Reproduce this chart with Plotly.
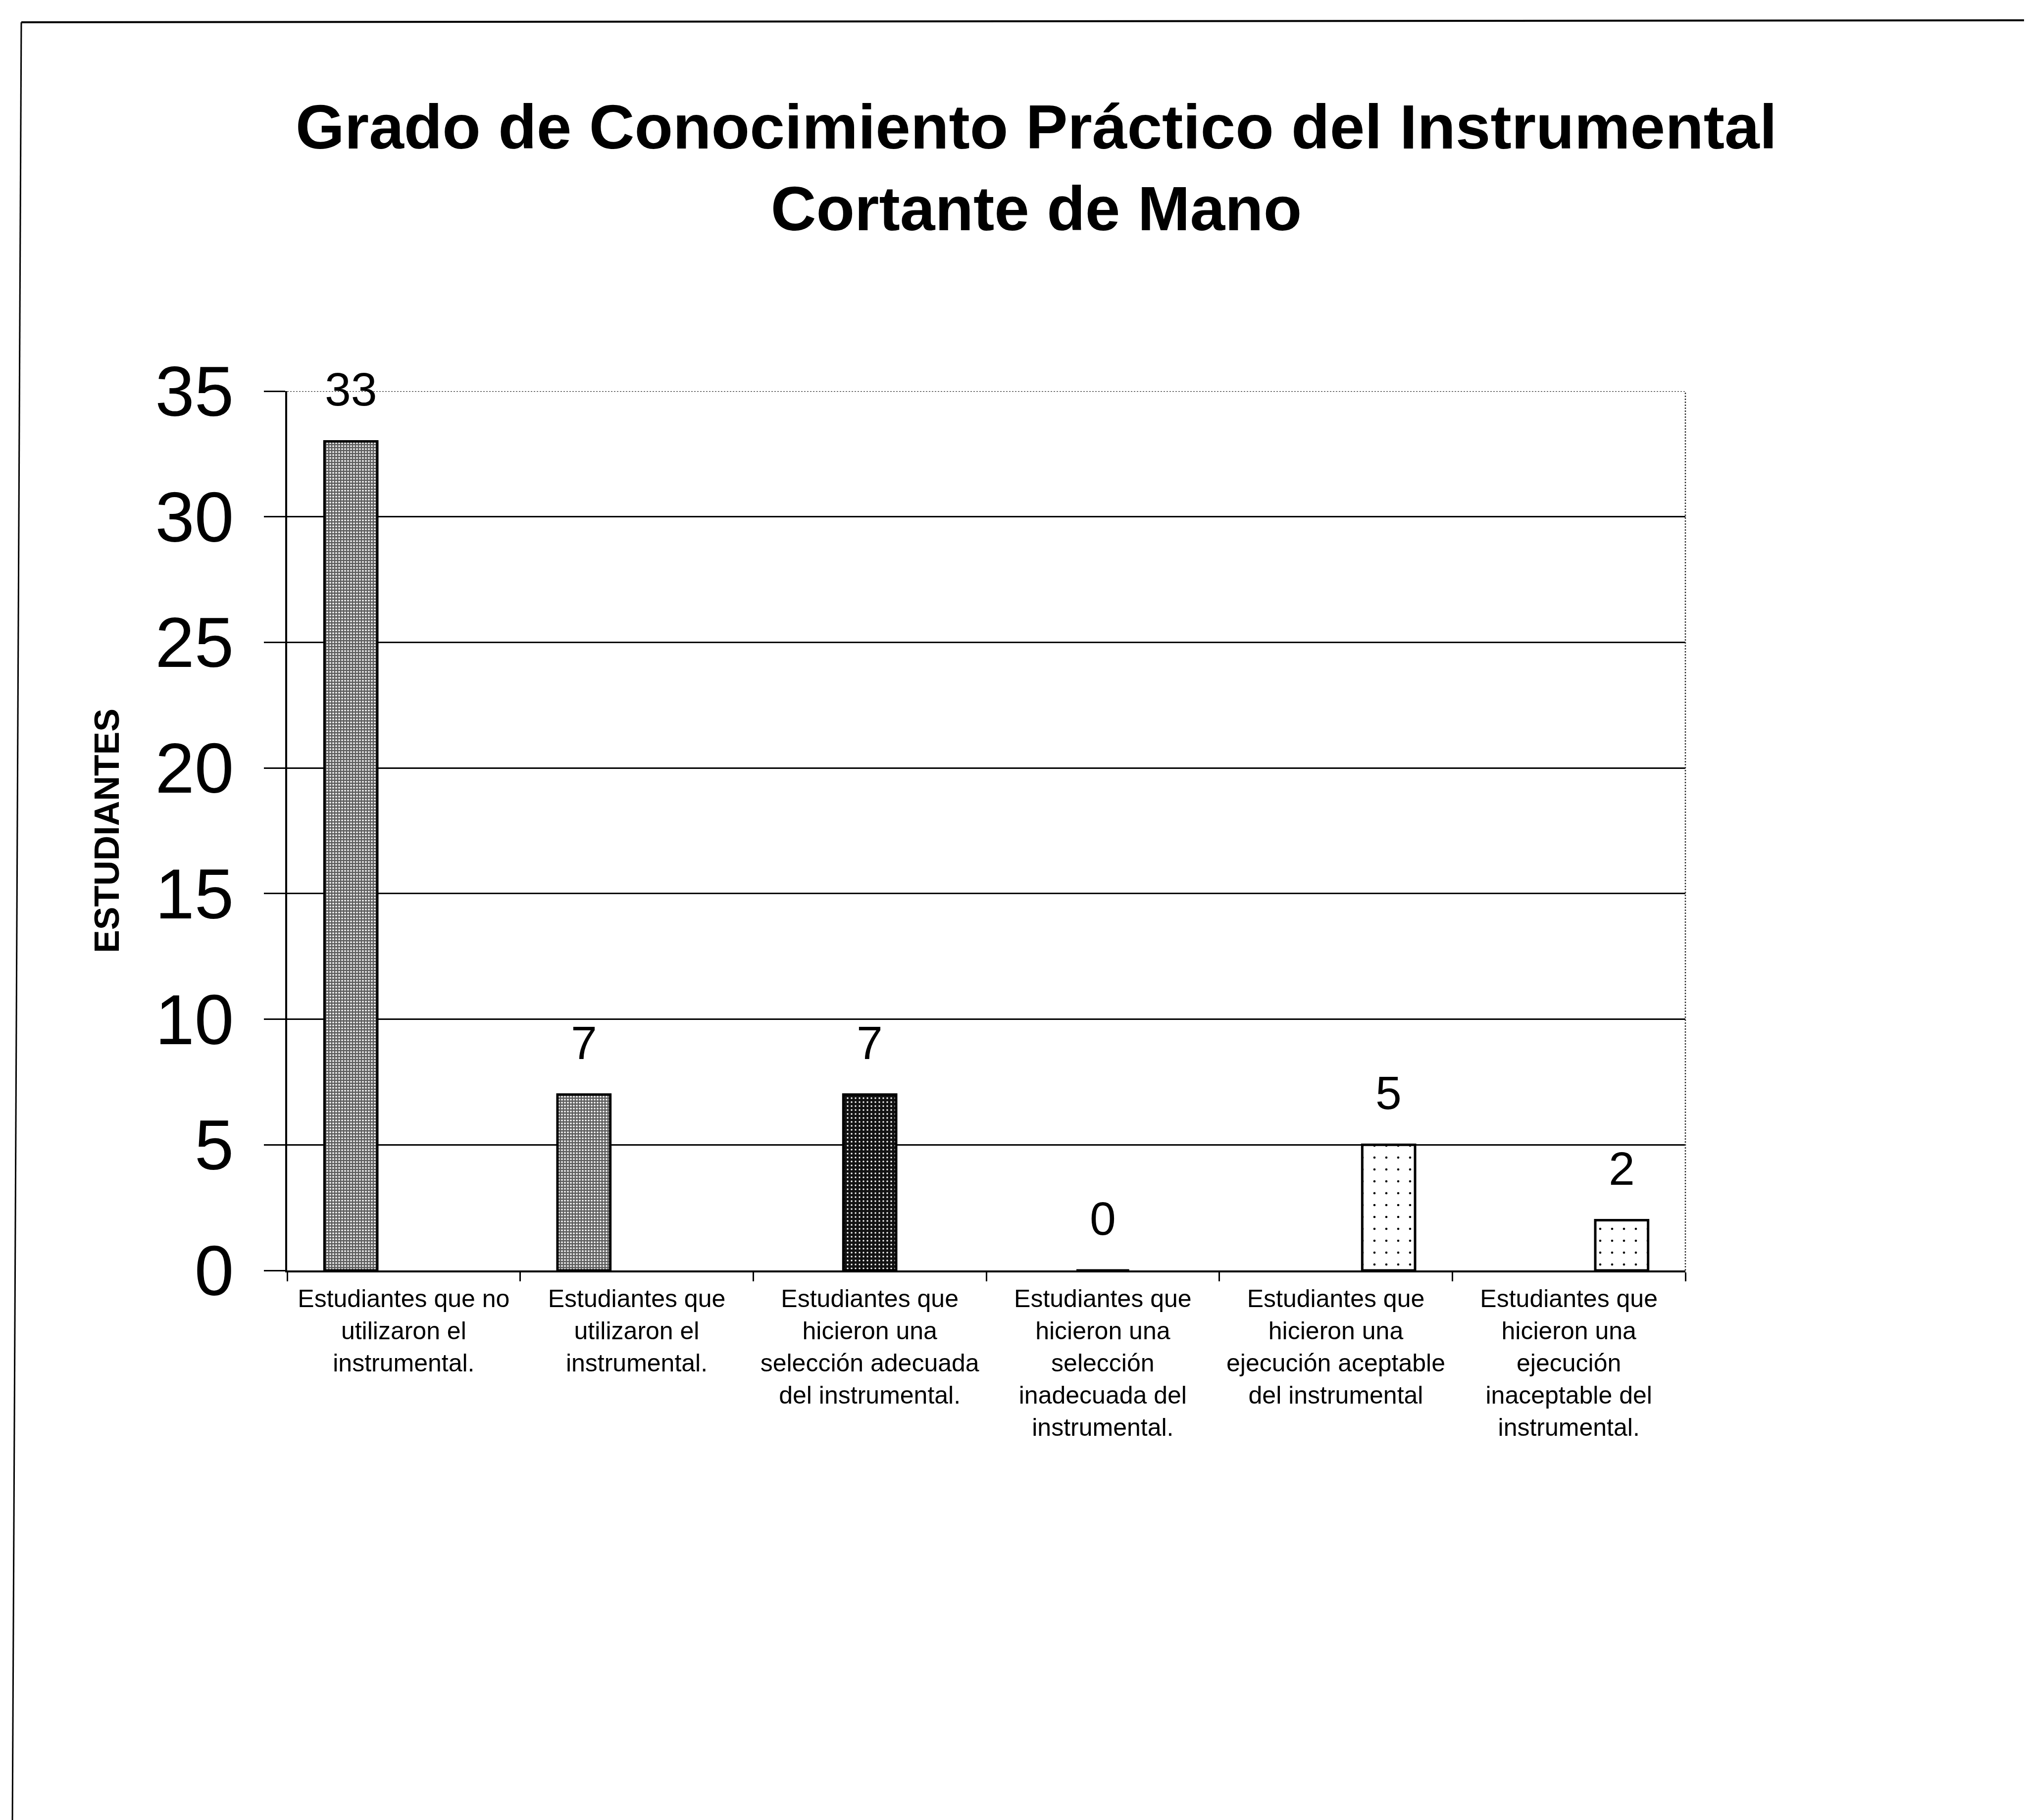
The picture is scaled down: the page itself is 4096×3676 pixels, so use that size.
import plotly.graph_objects as go

# ---------------- data ----------------
categories = [
    "Estudiantes que no<br>utilizaron el<br>instrumental.",
    "Estudiantes que<br>utilizaron el<br>instrumental.",
    "Estudiantes que<br>hicieron una<br>selección adecuada<br>del instrumental.",
    "Estudiantes que<br>hicieron una<br>selección<br>inadecuada del<br>instrumental.",
    "Estudiantes que<br>hicieron una<br>ejecución aceptable<br>del instrumental",
    "Estudiantes que<br>hicieron una<br>ejecución<br>inaceptable del<br>instrumental.",
]
serie_uso = [33, 7, None, None, None, None]
serie_seleccion = [None, None, 7, 0, None, None]
serie_ejecucion = [None, None, None, None, 5, 2]
y_ticks = [0, 5, 10, 15, 20, 25, 30, 35]

title_text = "Grado de Conocimiento Práctico del Instrumental<br>Cortante de Mano"
y_title = "ESTUDIANTES"

# ---------------- layout constants ----------------
W, H = 4096, 3676
ML, MR, MT, MB = 572, 700, 782, 1118
PW = W - ML - MR
PH = H - MT - MB
BARGAP = 0.32
FONT = "Liberation Sans, Arial, sans-serif"


def px_x(px):
    return (px - ML) / PW


def px_y(py):
    return (H - MB - py) / PH


fig = go.Figure()

styles = [
    dict(bg="#606060", fg="#ffffff", size=6, solidity=0.3),
    dict(bg="#121212", fg="#ffffff", size=8, solidity=0.15),
    dict(bg="#ffffff", fg="#000000", size=24, solidity=0.03),
]
series = [serie_uso, serie_seleccion, serie_ejecucion]

for vals, st in zip(series, styles):
    fig.add_trace(go.Bar(
        x=categories,
        y=vals,
        marker=dict(
            color=st["bg"],
            pattern=dict(shape=".", bgcolor=st["bg"], fgcolor=st["fg"],
                         size=st["size"], solidity=st["solidity"],
                         fillmode="replace"),
            line=dict(color="black", width=5),
        ),
        showlegend=False,
        hoverinfo="skip",
    ))

# data labels via annotations attached to data coordinates
cat_w = PW / len(categories)
bar_w = cat_w * (1 - BARGAP) / len(series)
annotations = []
for k, vals in enumerate(series):
    off = (k - (len(series) - 1) / 2) * bar_w
    for c, v in zip(categories, vals):
        if v is None:
            continue
        annotations.append(dict(
            x=c, y=v, xref="x", yref="y", text=str(v), showarrow=False,
            xshift=off, yshift=105, yanchor="middle", xanchor="center",
            font=dict(family=FONT, size=95, color="black"),
        ))

# y-axis title
annotations.append(dict(
    x=px_x(208), y=0.5, xref="paper", yref="paper", text=y_title,
    textangle=-90, showarrow=False, xanchor="center", yanchor="middle",
    font=dict(family=FONT, size=70, color="black", weight="bold"),
))

shapes = [
    # hide the solid grid line at the top and replace with dotted frame
    dict(type="line", xref="paper", yref="y", x0=0, x1=1, y0=35, y1=35,
         line=dict(color="white", width=5), layer="above"),
    dict(type="line", xref="paper", yref="y", x0=0, x1=1, y0=35, y1=35,
         line=dict(color="#333333", width=2.5, dash="dot"), layer="above"),
    dict(type="line", xref="paper", yref="y", x0=1, x1=1, y0=0, y1=35,
         line=dict(color="#333333", width=2.5, dash="dot"), layer="above"),
    # outer page border (top and left)
    dict(type="line", xref="paper", yref="paper",
         x0=px_x(35), y0=px_y(37), x1=px_x(W + 5), y1=px_y(33),
         line=dict(color="black", width=4)),
    dict(type="line", xref="paper", yref="paper",
         x0=px_x(35), y0=px_y(37), x1=px_x(17), y1=px_y(H + 5),
         line=dict(color="black", width=3)),
]

fig.update_layout(
    width=W, height=H,
    margin=dict(l=ML, r=MR, t=MT, b=MB, pad=0),
    paper_bgcolor="white", plot_bgcolor="white",
    barmode="group", bargap=BARGAP, bargroupgap=0,
    title=dict(text=title_text, x=2085 / W, xanchor="center",
               y=1 - 292 / H, yanchor="middle", xref="container", yref="container",
               font=dict(family=FONT, size=127, color="black", weight="bold")),
    annotations=annotations,
    shapes=shapes,
    font=dict(family=FONT, color="black"),
)

fig.update_xaxes(
    type="category", showline=True, linecolor="black", linewidth=4,
    ticks="outside", tickson="boundaries", ticklen=18, tickwidth=3,
    tickcolor="black", tickangle=0, showgrid=False,
    tickfont=dict(family=FONT, size=50, color="black"),
    ticklabelstandoff=10,
)
fig.update_yaxes(
    range=[0, 35], tickvals=y_ticks, ticktext=[str(t) for t in y_ticks],
    showline=True, linecolor="black", linewidth=4,
    ticks="outside", ticklen=43, tickwidth=3, tickcolor="black",
    showgrid=True, gridcolor="black", gridwidth=2.5, zeroline=False,
    tickfont=dict(family=FONT, size=143, color="black"),
    ticklabelstandoff=32,
)

fig.write_html("out.html")
